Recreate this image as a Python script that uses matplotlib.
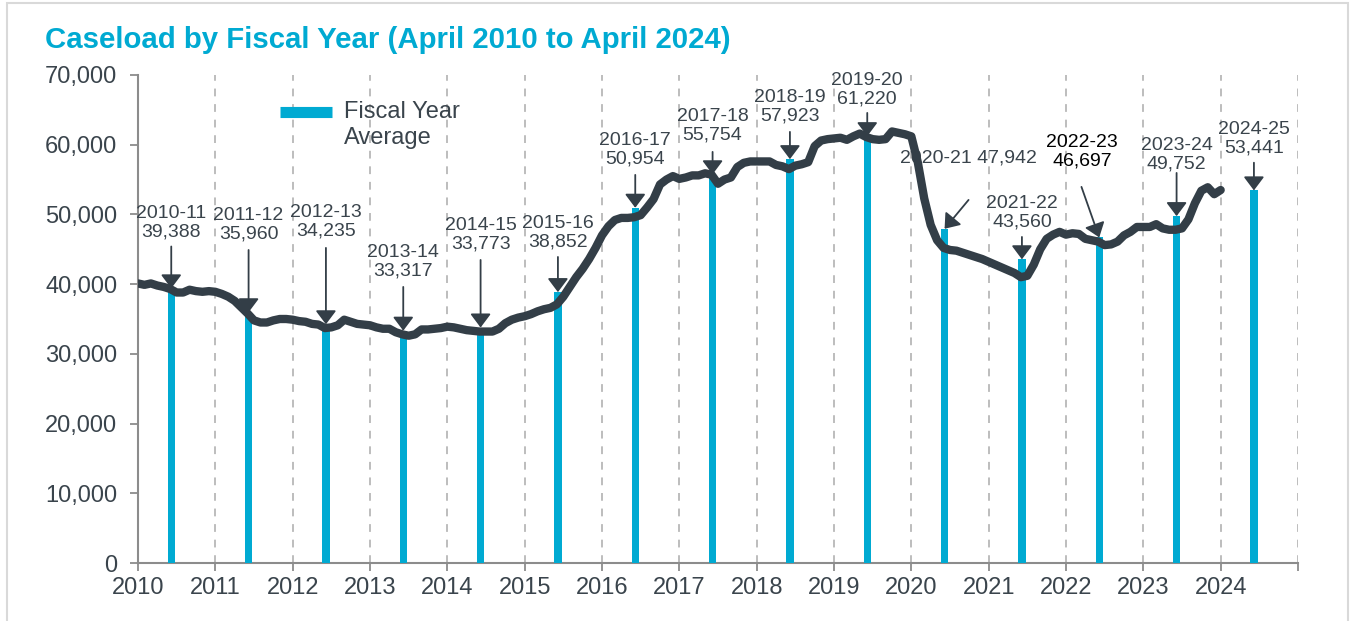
import numpy as np
import matplotlib
matplotlib.use('Agg')
import matplotlib.pyplot as plt
from matplotlib.lines import Line2D
from matplotlib.patches import Rectangle
from matplotlib.ticker import FuncFormatter
from matplotlib.legend_handler import HandlerLine2D

plt.rcParams['font.family'] = ['Liberation Sans', 'DejaVu Sans']

#%% data
# monthly caseload, Jan 2010 .. Jan 2024
caseload = [
    40100, 39900, 40100, 39800, 39600, 39300, 38800, 38800, 39200, 39000, 38900, 39000,  # 2010
    38900, 38600, 38200, 37600, 36700, 35800, 34800, 34500, 34500, 34800, 35000, 35000,  # 2011
    34900, 34700, 34600, 34300, 34200, 33700, 33800, 34100, 34900, 34600, 34300, 34200,  # 2012
    34100, 33800, 33600, 33600, 33100, 32800, 32600, 32800, 33500, 33500, 33600, 33700,  # 2013
    33900, 33800, 33600, 33400, 33300, 33200, 33200, 33200, 33600, 34400, 34900, 35200,  # 2014
    35400, 35700, 36100, 36400, 36600, 37100, 38200, 39600, 41000, 42200, 43600, 45200,  # 2015
    47000, 48300, 49200, 49500, 49500, 49600, 49900, 51000, 52200, 54300, 55000, 55500,  # 2016
    55100, 55300, 55600, 55600, 55900, 55700, 54400, 55000, 55300, 56800, 57400, 57600,  # 2017
    57600, 57600, 57600, 57100, 56900, 56500, 57000, 57200, 57500, 59800, 60600, 60800,  # 2018
    60900, 61000, 60700, 61200, 61600, 61100, 60800, 60700, 60800, 61900, 61700, 61500,  # 2019
    61200, 57500, 52300, 48500, 46300, 45200, 44900, 44800, 44500, 44200, 43900, 43600,  # 2020
    43200, 42800, 42400, 42000, 41600, 41000, 41200, 42800, 45000, 46500, 47100, 47500,  # 2021
    47100, 47300, 47200, 46500, 46300, 46100, 45600, 45700, 46100, 47000, 47500, 48200,  # 2022
    48200, 48200, 48600, 48000, 47800, 47800, 48000, 49300, 51600, 53400, 53900, 52900,  # 2023
    53500,                                                                               # 2024
]

fy_start = list(range(2010, 2025))
fy_labels = ['%d-%02d' % (y, (y + 1) % 100) for y in fy_start]
fy_avg = [39388, 35960, 34235, 33317, 33773, 38852, 50954, 55754,
          57923, 61220, 47942, 43560, 46697, 49752, 53441]

year_ticks = list(range(2010, 2026))

#%% layout of the callouts (data units)
text_dx = [0, 0, 0, 0, 0, 0, 0, 0, 0, 0, 0.31, 0, -0.22, 0, 0]
text_y = [48780, 48490, 48920, 43190, 47060, 47350, 59250, 62700,
          65420, 67860, 58110, 50220, 58970, 58540, 60830]
tail_dx = [0, 0, 0, 0, 0, 0, 0, 0, 0, 0, 0.31, 0, -0.23, 0, 0]
tail_y = [45400, 44900, 45200, 39600, 43470, 43900, 55670, 58970,
          61840, 64560, 52080, 46770, 53950, 55950, 57420]

#%% style
teal = '#00AAD2'
dark = '#333E47'
txt = '#3A444C'
grid = '#BDBDBD'
axis_col = '#8C8C8C'


class TopLine(HandlerLine2D):
    # put the legend swatch level with the first text line
    def create_artists(self, legend, orig_handle, xdescent, ydescent,
                       width, height, fontsize, trans):
        arts = super().create_artists(legend, orig_handle, xdescent, ydescent,
                                      width, height, fontsize, trans)
        for a in arts:
            a.set_ydata(np.asarray(a.get_ydata()) + 0.55 * fontsize)
        return arts


dpi = 100
fig = plt.figure(figsize=(1351 / dpi, 621 / dpi), dpi=dpi)
ax = fig.add_axes([138 / 1351, 58 / 621, 1160 / 1351, 488 / 621])

fig.patches.append(Rectangle((7 / 1351, -0.01), 1341 / 1351, 1 - 3 / 621 + 0.01,
                             transform=fig.transFigure, fill=False,
                             edgecolor='#D9D9D9', lw=1.5))

x_month = 2010 + np.arange(len(caseload)) / 12.0
bar_x = np.array(fy_start) + 0.43

ax.bar(bar_x, fy_avg, width=0.095, color=teal, zorder=3)
ax.plot(x_month, caseload, color=dark, lw=6, solid_capstyle='round',
        solid_joinstyle='round', zorder=5)

for i, lab in enumerate(fy_labels):
    val = '{:,}'.format(fy_avg[i])
    if i == 10:
        s = lab + ' ' + val
    else:
        s = lab + '\n' + val
    ax.text(bar_x[i] + text_dx[i], text_y[i], s, ha='center', va='center',
            fontsize=14, color='black' if i == 12 else txt,
            linespacing=1.1, zorder=4)
    ax.annotate('', xy=(bar_x[i], fy_avg[i]),
                xytext=(bar_x[i] + tail_dx[i], tail_y[i]),
                arrowprops=dict(arrowstyle='-|>,head_length=0.4,head_width=0.3',
                                color=dark, lw=1.3, mutation_scale=21,
                                shrinkA=0, shrinkB=0),
                zorder=6)

ax.set_xlim(2010, 2025)
ax.set_ylim(0, 70000)
ax.set_xticks(year_ticks)
ax.set_xticklabels([str(y) if y < 2025 else '' for y in year_ticks])
ax.set_yticks(np.arange(0, 70001, 10000))
ax.yaxis.set_major_formatter(FuncFormatter(lambda v, p: '{:,.0f}'.format(v)))

for y in year_ticks[1:]:
    ax.axvline(y, color=grid, lw=1.4, ls=(0, (4, 4)), zorder=1)

for s in ['top', 'right']:
    ax.spines[s].set_visible(False)
for s in ['left', 'bottom']:
    ax.spines[s].set_color(axis_col)
    ax.spines[s].set_linewidth(1.5)
ax.tick_params(axis='both', colors=axis_col, labelcolor=txt, labelsize=17,
               length=6, width=1.3)
ax.tick_params(axis='y', pad=9)
ax.tick_params(axis='x', pad=4)

leg = ax.legend([Line2D([], [], color=teal, lw=8, solid_capstyle='butt')],
                ['Fiscal Year\nAverage'],
                loc='upper left', bbox_to_anchor=(0.104, 0.99), frameon=False,
                fontsize=17, handlelength=2.2, handletextpad=0.5,
                handler_map={Line2D: TopLine()})
for t in leg.get_texts():
    t.set_color(txt)
    t.set_multialignment('left')

fig.text(45 / 1351, 1 - 40 / 621, 'Caseload by Fiscal Year (April 2010 to April 2024)',
         fontsize=21.2, fontweight='bold', color=teal, va='center', ha='left')

plt.savefig('out.png', dpi=dpi)
